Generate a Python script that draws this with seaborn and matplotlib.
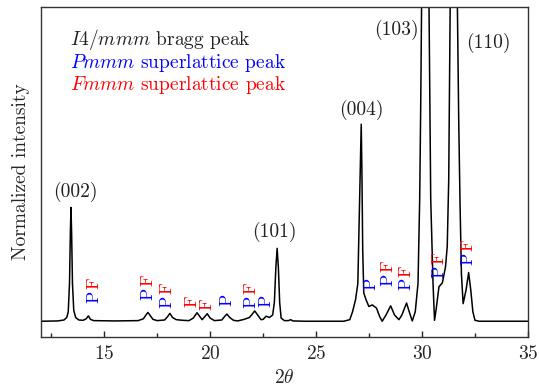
import matplotlib
matplotlib.use('Agg')
import matplotlib.pyplot as plt
import seaborn as sns
import pandas as pd
from matplotlib.ticker import MultipleLocator

# XRD pattern (2theta, normalized intensity)
two_theta = [12.0, 12.8, 13.1, 13.23, 13.3, 13.36, 13.40, 13.43, 13.46, 13.50, 13.56, 13.65, 13.8,
             14.0, 14.15, 14.25, 14.35, 14.5, 15.5, 16.6, 16.85, 16.97, 17.06, 17.15, 17.3, 17.5,
             17.85, 17.98, 18.1, 18.22, 18.4, 18.7, 19.0, 19.2, 19.38, 19.5, 19.62, 19.75, 19.86,
             20.0, 20.2, 20.55, 20.68, 20.79, 20.92, 21.1, 21.3, 21.6, 21.85, 21.98, 22.1, 22.22,
             22.4, 22.5, 22.64, 22.8, 22.95, 23.03, 23.1, 23.16, 23.22, 23.28, 23.35, 23.5, 23.7,
             23.8, 23.9, 24.5, 26.3, 26.59, 26.72, 26.86, 26.97, 27.02, 27.1, 27.13, 27.16, 27.2,
             27.25, 27.36, 27.49, 27.65, 27.85, 28.0, 28.12, 28.3, 28.52, 28.7, 28.91, 29.05, 29.27,
             29.42, 29.54, 29.68, 29.81, 29.89, 29.94, 29.98, 30.06, 30.16, 30.25, 30.33, 30.37,
             30.41, 30.52, 30.59, 30.67, 30.8, 30.96, 31.11, 31.19, 31.26, 31.33, 31.42, 31.5,
             31.58, 31.67, 31.73, 31.79, 31.86, 31.94, 32.08, 32.2, 32.3, 32.4, 32.5, 32.7, 35.0]
intensity = [0.0, 0.001, 0.004, 0.012, 0.03, 0.12, 0.28, 0.362, 0.28, 0.12, 0.035, 0.012, 0.004,
             0.003, 0.008, 0.017, 0.006, 0.002, 0.001, 0.002, 0.008, 0.02, 0.028, 0.02, 0.006, 0.002,
             0.004, 0.014, 0.025, 0.012, 0.005, 0.003, 0.002, 0.01, 0.027, 0.016, 0.005, 0.015, 0.024,
             0.01, 0.002, 0.004, 0.015, 0.023, 0.012, 0.003, 0.001, 0.006, 0.012, 0.022, 0.033, 0.022,
             0.005, 0.006, 0.016, 0.012, 0.02, 0.06, 0.17, 0.232, 0.17, 0.06, 0.01, 0.002, 0.002,
             0.005, 0.001, 0.0, 0.0, 0.005, 0.03, 0.068, 0.12, 0.28, 0.545, 0.627, 0.49, 0.227,
             0.09, 0.068, 0.047, 0.052, 0.042, 0.015, 0.0, 0.02, 0.049, 0.02, 0.005, 0.02, 0.058,
             0.025, 0.001, 0.03, 0.12, 0.39, 0.7, 1.0, 2.2, 3.0, 2.2, 1.0, 0.7,
             0.39, 0.12, 0.003, 0.04, 0.11, 0.122, 0.174, 0.238, 0.45, 1.0, 2.5, 3.5,
             2.5, 1.0, 0.65, 0.39, 0.15, 0.056, 0.1, 0.155, 0.1, 0.03, 0.003, 0.0, 0.0]

# Miller index labels
peak_labels = ['(002)', '(101)', '(004)', '(103)', '(110)']
peak_label_x = [13.62, 23.05, 27.14, 28.77, 33.14]
peak_label_y = [0.41, 0.283, 0.673, 0.927, 0.885]

# superlattice markers: P = Pmmm (blue), F = Fmmm (red)
sl_x = [14.49, 17.04, 17.96, 19.14, 19.85, 20.79, 21.93, 22.61, 27.6, 28.39, 29.22, 30.8, 32.17]
sl_y = [0.058, 0.068, 0.042, 0.044, 0.037, 0.049, 0.042, 0.044, 0.098, 0.113, 0.098, 0.137, 0.18]
sl_kind = ['PF', 'PF', 'PF', 'F', 'F', 'P', 'PF', 'P', 'P', 'PF', 'PF', 'PF', 'PF']

sns.set_style('ticks')
plt.rcParams['font.family'] = 'serif'
plt.rcParams['font.serif'] = ['cmr10', 'DejaVu Serif']
plt.rcParams['mathtext.fontset'] = 'cm'
plt.rcParams['axes.formatter.use_mathtext'] = True

df = pd.DataFrame({'two_theta': two_theta, 'intensity': intensity})

fig = plt.figure(figsize=(5.39, 3.9), dpi=100)
ax = fig.add_axes([0.0755, 0.136, 0.904, 0.846])

sns.lineplot(data=df, x='two_theta', y='intensity', sort=False, estimator=None,
             color='black', linewidth=1.1, ax=ax)

ax.set_xlim(12, 35)
ax.set_ylim(-0.05, 1.0)
ax.xaxis.set_major_locator(MultipleLocator(5))
ax.xaxis.set_minor_locator(MultipleLocator(2.5))
ax.tick_params(axis='x', which='major', direction='in', length=4, width=1, labelsize=14, pad=6)
ax.tick_params(axis='x', which='minor', direction='in', length=3, width=1)
ax.set_yticks([])
for s in ax.spines.values():
    s.set_linewidth(1.0)
    s.set_color('#333333')

ax.set_xlabel(r'$2\theta$', fontsize=14, labelpad=4)
ax.set_ylabel('Normalized intensity', fontsize=14, labelpad=8)

for lab, x, y in zip(peak_labels, peak_label_x, peak_label_y):
    ax.text(x, y, lab, fontsize=14, ha='center', va='center', color='#222222')

for x, y, kind in zip(sl_x, sl_y, sl_kind):
    off = 0
    if 'P' in kind:
        ax.annotate('P', xy=(x, y), xytext=(0, 0), textcoords='offset points',
                    rotation=90, ha='center', va='bottom', color='blue', fontsize=13)
        off = 10
    if 'F' in kind:
        ax.annotate('F', xy=(x, y), xytext=(0, off), textcoords='offset points',
                    rotation=90, ha='center', va='bottom', color='red', fontsize=13)

ax.text(0.06, 0.902, r'$I4/mmm$ bragg peak', transform=ax.transAxes, fontsize=14,
        va='center', color='#222222')
ax.text(0.06, 0.831, r'$Pmmm$ superlattice peak', transform=ax.transAxes, fontsize=14,
        va='center', color='blue')
ax.text(0.06, 0.764, r'$Fmmm$ superlattice peak', transform=ax.transAxes, fontsize=14,
        va='center', color='red')

fig.savefig('out.png', dpi=100)
